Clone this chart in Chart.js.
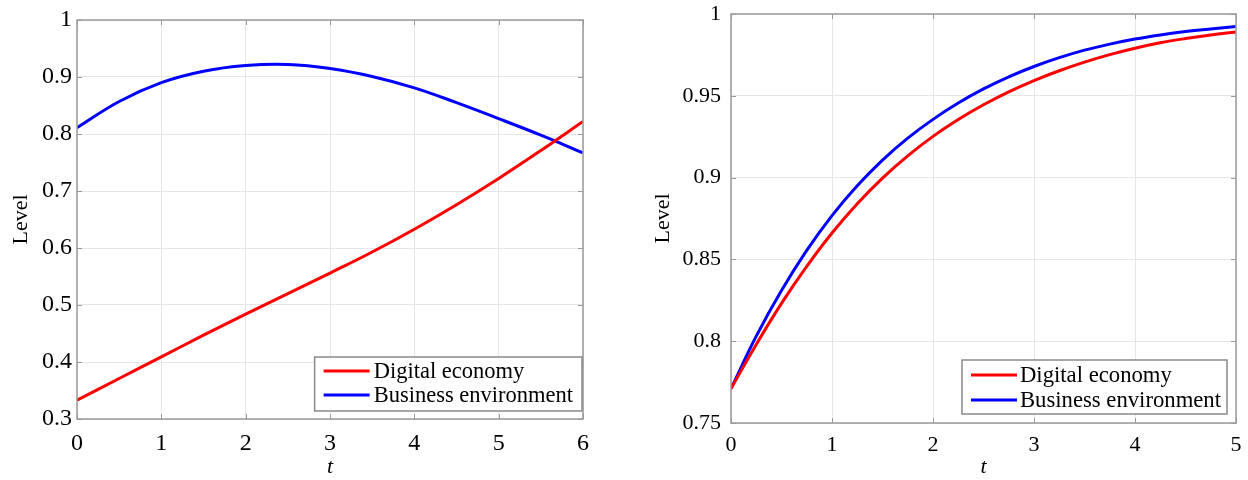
<!DOCTYPE html>
<html>
<head>
<meta charset="utf-8">
<script src="https://cdn.jsdelivr.net/npm/chart.js@4.4.1/dist/chart.umd.min.js"></script>
<style>
  html, body { margin: 0; padding: 0; background: #ffffff; }
  #wrap { position: relative; width: 1248px; height: 480px; overflow: hidden; background: #ffffff; }
  canvas { position: absolute; top: 0; }
  #leftPanel { left: 0; }
  #rightPanel { left: 620px; }
</style>
</head>
<body>
<div id="wrap">
  <canvas id="leftPanel" width="620" height="480"></canvas>
  <canvas id="rightPanel" width="628" height="480"></canvas>
</div>
<script>
// Series shared by both panels
const seriesNames = ['Digital economy', 'Business environment'];
const seriesColors = ['#ff0000', '#0000ff'];

// Left panel: levels over t = 0..6
const tLeft = [0, 0.5, 1, 1.5, 2, 2.5, 3, 3.5, 4, 4.5, 5, 5.5, 6];
const digitalLeft = [0.333, 0.371, 0.409, 0.447, 0.484, 0.520, 0.556, 0.593, 0.633, 0.676, 0.722, 0.771, 0.822];
const businessLeft = [0.811, 0.857, 0.890, 0.910, 0.920, 0.922, 0.915, 0.901, 0.881, 0.855, 0.827, 0.798, 0.767];
const xTicksLeft = [0, 1, 2, 3, 4, 5, 6];
const yTicksLeft = [0.3, 0.4, 0.5, 0.6, 0.7, 0.8, 0.9, 1];

// Right panel: levels over t = 0..5, every quarter step
const tRight = [0, 0.25, 0.5, 0.75, 1, 1.25, 1.5, 1.75, 2, 2.25, 2.5, 2.75, 3, 3.25, 3.5, 3.75, 4, 4.25, 4.5, 4.75, 5];
const digitalRight = [0.771, 0.7980, 0.8231, 0.8457, 0.8661, 0.8840, 0.8997, 0.9133, 0.9252, 0.9355, 0.9445, 0.9524, 0.9593, 0.9653, 0.9706, 0.9752, 0.9791, 0.9824, 0.9850, 0.9872, 0.9890];
const businessRight = [0.771, 0.8031, 0.8310, 0.8555, 0.8768, 0.8950, 0.9107, 0.9241, 0.9356, 0.9456, 0.9542, 0.9616, 0.9679, 0.9733, 0.9779, 0.9816, 0.9847, 0.9872, 0.9893, 0.9909, 0.9923];
const xTicksRight = [0, 1, 2, 3, 4, 5];
const yTicksRight = [0.75, 0.8, 0.85, 0.9, 0.95, 1];

const FONT_FAMILY = '"Liberation Serif", "Times New Roman", serif';

// Axis box with inward tick marks, then a boxed legend inside the plot area
const boxPlugin = {
  id: 'axisBox',
  afterDatasetsDraw(chart, args, opts) {
    const ctx = chart.ctx;
    const { left, right, top, bottom } = chart.chartArea;
    const xs = chart.scales.x, ys = chart.scales.y;
    ctx.save();
    ctx.strokeStyle = opts.frameColor;
    ctx.lineWidth = 1.5;
    ctx.strokeRect(left, top, right - left, bottom - top);
    ctx.lineWidth = 1;
    ctx.beginPath();
    xs.ticks.forEach(tk => {
      const px = Math.round(xs.getPixelForValue(tk.value)) + 0.5;
      ctx.moveTo(px, bottom); ctx.lineTo(px, bottom - opts.tickLen);
      ctx.moveTo(px, top); ctx.lineTo(px, top + opts.tickLen);
    });
    ys.ticks.forEach(tk => {
      const py = Math.round(ys.getPixelForValue(tk.value)) + 0.5;
      ctx.moveTo(left, py); ctx.lineTo(left + opts.tickLen, py);
      ctx.moveTo(right, py); ctx.lineTo(right - opts.tickLen, py);
    });
    ctx.stroke();

    // legend
    const lg = opts.legend;
    const items = chart.data.datasets.map(d => ({ text: d.label, color: d.borderColor }));
    ctx.font = lg.fontSize + 'px ' + FONT_FAMILY;
    const textW = Math.max(...items.map(it => ctx.measureText(it.text).width));
    const w = lg.padL + lg.lineLen + lg.gap + textW + lg.padR;
    const h = lg.padT + items.length * lg.rowH + lg.padB;
    const x0 = right - lg.insetR - w;
    const y0 = bottom - lg.insetB - h;
    ctx.fillStyle = '#ffffff';
    ctx.fillRect(x0, y0, w, h);
    ctx.strokeStyle = lg.borderColor;
    ctx.lineWidth = 1.5;
    ctx.strokeRect(x0, y0, w, h);
    ctx.textBaseline = 'middle';
    ctx.textAlign = 'left';
    items.forEach((it, i) => {
      const cy = y0 + lg.padT + lg.rowH * (i + 0.5);
      ctx.strokeStyle = it.color;
      ctx.lineWidth = 3;
      ctx.beginPath();
      ctx.moveTo(x0 + lg.padL, cy);
      ctx.lineTo(x0 + lg.padL + lg.lineLen, cy);
      ctx.stroke();
      ctx.fillStyle = '#000000';
      ctx.fillText(it.text, x0 + lg.padL + lg.lineLen + lg.gap, cy + 1);
    });
    ctx.restore();
  }
};

function makeDatasets(t, a, b) {
  return [a, b].map((vals, i) => ({
    label: seriesNames[i],
    data: t.map((x, k) => ({ x: x, y: vals[k] })),
    borderColor: seriesColors[i],
    backgroundColor: seriesColors[i],
    borderWidth: 3,
    pointRadius: 0,
    tension: 0.4,
    fill: false
  }));
}

function makeChart(canvasId, t, a, b, xTicks, yTicks, cfg) {
  const tickFont = { family: FONT_FAMILY, size: cfg.tickSize, lineHeight: 1.2 };
  return new Chart(document.getElementById(canvasId), {
    type: 'line',
    data: { datasets: makeDatasets(t, a, b) },
    plugins: [boxPlugin],
    options: {
      responsive: false,
      devicePixelRatio: 1,
      animation: false,
      events: [],
      layout: { padding: { left: 0, right: cfg.padRight, top: cfg.padTop, bottom: 0 } },
      plugins: {
        legend: { display: false },
        tooltip: { enabled: false },
        axisBox: {
          frameColor: '#9a9a9a',
          tickLen: 5,
          legend: cfg.legend
        }
      },
      scales: {
        x: {
          type: 'linear',
          min: xTicks[0],
          max: xTicks[xTicks.length - 1],
          afterBuildTicks: s => { s.ticks = xTicks.map(v => ({ value: v })); },
          afterFit: s => { s.height = cfg.xAxisHeight; s.paddingLeft = 0; s.paddingRight = 0; },
          grid: { color: '#e6e6e6', lineWidth: 1, drawTicks: false },
          border: { display: false },
          ticks: { color: '#000000', font: tickFont, padding: cfg.xTickPad, maxRotation: 0, callback: v => String(v) },
          title: {
            display: true, text: 't', color: '#000000',
            font: { family: FONT_FAMILY, size: cfg.titleSize, style: 'italic', lineHeight: 1.2 },
            padding: { top: 0, bottom: cfg.xTitlePad }
          }
        },
        y: {
          type: 'linear',
          min: yTicks[0],
          max: yTicks[yTicks.length - 1],
          afterBuildTicks: s => { s.ticks = yTicks.map(v => ({ value: v })); },
          afterFit: s => { s.width = cfg.yAxisWidth; s.paddingTop = 0; s.paddingBottom = 0; },
          grid: { color: '#e6e6e6', lineWidth: 1, drawTicks: false },
          border: { display: false },
          ticks: { color: '#000000', font: tickFont, padding: cfg.yTickPad, callback: v => String(v) },
          title: {
            display: true, text: 'Level', color: '#000000',
            font: { family: FONT_FAMILY, size: cfg.titleSize, lineHeight: 1.2 },
            padding: { top: cfg.yTitlePad, bottom: 0 }
          }
        }
      }
    }
  });
}

makeChart('leftPanel', tLeft, digitalLeft, businessLeft, xTicksLeft, yTicksLeft, {
  tickSize: 24, titleSize: 22,
  padRight: 37, padTop: 20,
  xAxisHeight: 61, yAxisWidth: 77,
  xTickPad: 10, yTickPad: 5,
  xTitlePad: 0, yTitlePad: 8,
  legend: { fontSize: 22.5, padL: 9, lineLen: 46, gap: 4, padR: 9, padT: 2, padB: 4, rowH: 24, insetR: 1, insetB: 8, borderColor: '#8a8a8a' }
});

makeChart('rightPanel', tRight, digitalRight, businessRight, xTicksRight, yTicksRight, {
  tickSize: 22, titleSize: 22,
  padRight: 12, padTop: 14,
  xAxisHeight: 57, yAxisWidth: 111,
  xTickPad: 9, yTickPad: 10,
  xTitlePad: 0, yTitlePad: 30,
  legend: { fontSize: 22.7, padL: 9, lineLen: 46, gap: 3, padR: 6, padT: 2.5, padB: 1.5, rowH: 25, insetR: 9, insetB: 9, borderColor: '#8a8a8a' }
});
</script>
</body>
</html>
